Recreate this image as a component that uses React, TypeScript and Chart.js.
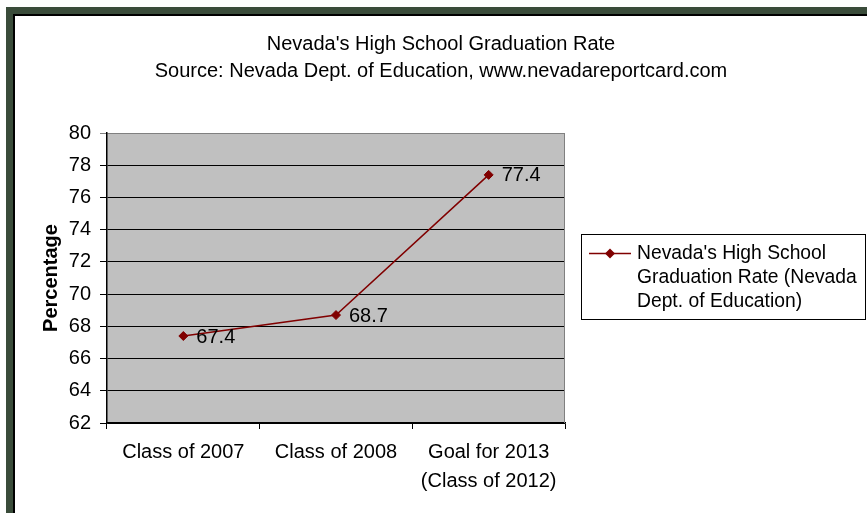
import React, { useEffect, useRef } from 'react';
import { Chart, registerables, layouts } from 'chart.js';

Chart.register(...registerables);

// ---- data ----
const categories: (string | string[])[] = [
  'Class of 2007',
  'Class of 2008',
  ['Goal for 2013', '(Class of 2012)'],
];
const rates = [67.4, 68.7, 77.4];
const seriesLabel = "Nevada's High School Graduation Rate (Nevada Dept. of Education)";
const legendLines = ["Nevada's High School", 'Graduation Rate (Nevada', 'Dept. of Education)'];
const titleLines = [
  "Nevada's High School Graduation Rate",
  'Source: Nevada Dept. of Education, www.nevadareportcard.com',
];
const yAxisTitle = 'Percentage';
const yMin = 62;
const yMax = 80;
const yStep = 2;

// ---- styles ----
const FONT = "'Liberation Sans', Arial, sans-serif";
const SERIES_COLOR = '#800000';
const PLOT_BG = '#C0C0C0';
const FRAME_GREEN = '#3A4C3A';

const plotBackground = {
  id: 'plotBackground',
  beforeDraw(chart: any) {
    const { ctx, chartArea: a } = chart;
    ctx.save();
    ctx.fillStyle = PLOT_BG;
    ctx.fillRect(a.left, a.top, a.right - a.left, a.bottom - a.top);
    ctx.restore();
  },
  beforeDatasetsDraw(chart: any) {
    const { ctx, chartArea: a } = chart;
    ctx.save();
    ctx.strokeStyle = '#808080';
    ctx.lineWidth = 1;
    ctx.beginPath();
    ctx.moveTo(a.right - 0.5, a.top);
    ctx.lineTo(a.right - 0.5, a.bottom);
    ctx.stroke();
    ctx.restore();
  },
};

const dataLabels = {
  id: 'dataLabels',
  afterDatasetsDraw(chart: any) {
    const { ctx } = chart;
    const meta = chart.getDatasetMeta(0);
    const values = chart.data.datasets[0].data as number[];
    ctx.save();
    ctx.font = `20px ${FONT}`;
    ctx.fillStyle = '#000';
    ctx.textAlign = 'left';
    ctx.textBaseline = 'middle';
    meta.data.forEach((pt: any, i: number) => {
      ctx.fillText(values[i].toFixed(1), pt.x + 13, pt.y + 1);
    });
    ctx.restore();
  },
};

const sideLegend = {
  id: 'sideLegend',
  beforeInit(chart: any) {
    const box: any = {
      position: 'right',
      weight: 0,
      fullSize: false,
      options: {},
      left: 0,
      top: 0,
      right: 0,
      bottom: 0,
      width: 0,
      height: 0,
      isHorizontal() {
        return false;
      },
      update(_maxW: number, maxH: number) {
        this.width = 302;
        this.height = maxH;
      },
      draw() {
        const { ctx, chartArea: a } = chart;
        const ds = chart.data.datasets[0];
        const cy = (a.top + a.bottom) / 2;
        const rx = Math.round(this.left + 16) + 0.5;
        const ry = Math.round(cy - 44) + 0.5;
        ctx.save();
        ctx.strokeStyle = '#000';
        ctx.lineWidth = 1;
        ctx.strokeRect(rx, ry, 284, 85);
        // sample line
        const ly = ry + 19;
        ctx.strokeStyle = ds.borderColor;
        ctx.lineWidth = 1.5;
        ctx.beginPath();
        ctx.moveTo(this.left + 24, ly);
        ctx.lineTo(this.left + 66, ly);
        ctx.stroke();
        // diamond
        const dx = this.left + 45;
        const r = 5;
        ctx.fillStyle = ds.pointBackgroundColor;
        ctx.beginPath();
        ctx.moveTo(dx - r, ly);
        ctx.lineTo(dx, ly - r);
        ctx.lineTo(dx + r, ly);
        ctx.lineTo(dx, ly + r);
        ctx.closePath();
        ctx.fill();
        // text
        ctx.fillStyle = '#000';
        ctx.font = `19.3px ${FONT}`;
        ctx.textAlign = 'left';
        ctx.textBaseline = 'middle';
        legendLines.forEach((line, i) => {
          ctx.fillText(line, this.left + 72, ly + i * 24);
        });
        ctx.restore();
      },
    };
    layouts.addBox(chart, box);
  },
};

export default function App() {
  const canvasRef = useRef<HTMLCanvasElement | null>(null);

  useEffect(() => {
    const canvas = canvasRef.current;
    if (!canvas) return;
    const chart = new Chart(canvas, {
      type: 'line',
      data: {
        labels: categories as any,
        datasets: [
          {
            label: seriesLabel,
            data: rates,
            borderColor: SERIES_COLOR,
            backgroundColor: SERIES_COLOR,
            borderWidth: 1.5,
            pointStyle: 'rectRot',
            pointRadius: 4.5,
            pointBackgroundColor: SERIES_COLOR,
            pointBorderColor: SERIES_COLOR,
            pointBorderWidth: 1,
            tension: 0,
            fill: false,
          },
        ],
      },
      options: {
        responsive: false,
        animation: false,
        devicePixelRatio: 1,
        layout: { padding: 0 },
        plugins: {
          legend: { display: false },
          tooltip: { enabled: false },
          title: {
            display: true,
            text: titleLines,
            color: '#000',
            font: { family: FONT, size: 20, weight: 'normal', lineHeight: '27px' },
            padding: { top: 16, bottom: 48 },
          },
        },
        scales: {
          x: {
            type: 'category',
            offset: true,
            afterFit(scale: any) {
              scale.height = 90;
            },
            grid: {
              offset: true,
              drawOnChartArea: false,
              drawTicks: true,
              tickLength: 6,
              color: '#000',
              lineWidth: 1,
            },
            border: { display: true, color: '#000', width: 1.5 },
            ticks: {
              color: '#000',
              padding: 9,
              maxRotation: 0,
              autoSkip: false,
              font: { family: FONT, size: 20, lineHeight: '29px' },
            },
          },
          y: {
            type: 'linear',
            min: yMin,
            max: yMax,
            afterFit(scale: any) {
              scale.width = 92;
            },
            ticks: {
              stepSize: yStep,
              color: '#000',
              padding: 9,
              font: { family: FONT, size: 20 },
            },
            grid: {
              drawTicks: true,
              tickLength: 7,
              lineWidth: 1,
              color: (ctx: any) => (ctx.tick && ctx.tick.value === yMax ? '#808080' : '#000'),
            },
            border: { display: true, color: '#000', width: 1.5 },
            title: {
              display: true,
              text: yAxisTitle,
              color: '#000',
              font: { family: FONT, size: 20, weight: 'bold' },
              padding: { top: 24, bottom: 0 },
            },
          },
        },
      },
      plugins: [plotBackground, dataLabels, sideLegend],
    });
    return () => chart.destroy();
  }, []);

  return (
    <div
      style={{
        position: 'fixed',
        left: 0,
        top: 0,
        width: 867,
        height: 513,
        overflow: 'hidden',
        background: '#fff',
      }}
    >
      <div
        style={{
          position: 'absolute',
          left: 6,
          top: 7,
          width: 900,
          height: 540,
          borderLeft: `7px solid ${FRAME_GREEN}`,
          borderTop: `7px solid ${FRAME_GREEN}`,
          boxSizing: 'border-box',
        }}
      >
        <div
          style={{
            position: 'absolute',
            left: 0,
            top: 0,
            right: 0,
            bottom: 0,
            borderLeft: '2px solid #000',
            borderTop: '2px solid #000',
          }}
        />
      </div>
      <canvas
        ref={canvasRef}
        width={852}
        height={498}
        style={{ position: 'absolute', left: 15, top: 15, width: 852, height: 498 }}
      />
    </div>
  );
}
